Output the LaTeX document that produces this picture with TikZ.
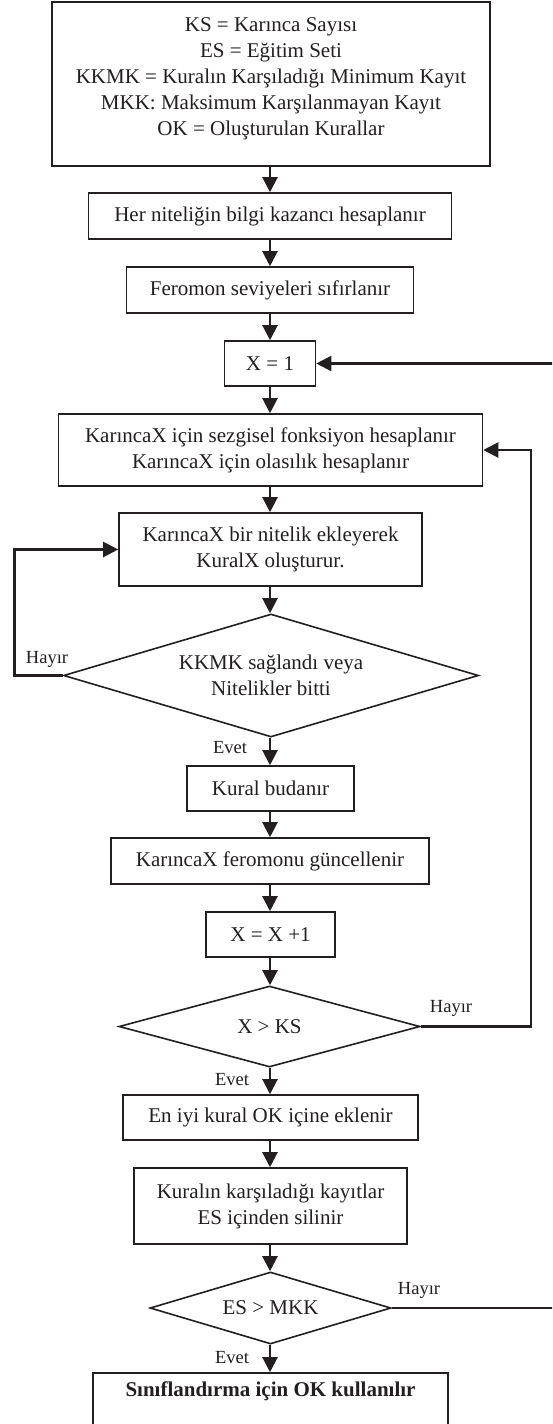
\documentclass[tikz,border=0pt]{standalone}
\usepackage{fontspec}
\setmainfont{Liberation Serif}
\usetikzlibrary{arrows.meta,shapes.geometric}
\definecolor{ink}{HTML}{231F20}
\begin{document}
\begin{tikzpicture}[x=1pt,y=-1pt,
  every node/.style={font=\fontsize{21}{26}\selectfont, text=ink},
  box/.style={draw=ink, line width=1.6pt, inner sep=0pt, align=center, rectangle},
  decision/.style={draw=ink, line width=1.6pt, inner sep=0pt, align=center, diamond},
  conn/.style={draw=ink, line width=2.2pt, -{Triangle[length=15pt,width=15pt]}},
  link/.style={draw=ink, line width=2.2pt},
  lbl/.style={font=\fontsize{18.5}{22}\selectfont, inner sep=0pt}]
\clip (0,0) rectangle (552,1424);
\useasboundingbox (0,0) rectangle (552,1424);
\fill[white] (0,0) rectangle (552,1424);

% definitions box
\node[box, minimum width=438pt, minimum height=164pt] (defs) at (271,84) {};
\node[align=center, inner sep=0pt] (defstext) at (271,78.5) {KS = Karınca Sayısı\\ES = Eğitim Seti\\KKMK = Kuralın Karşıladığı Minimum Kayıt\\MKK: Maksimum Karşılanmayan Kayıt\\OK = Oluşturulan Kurallar};

% process steps
\node[box, minimum width=363pt, minimum height=46pt] (gain) at (270,216) {Her niteliğin bilgi kazancı hesaplanır};
\node[box, minimum width=287pt, minimum height=46pt] (reset) at (270,290) {Feromon seviyeleri sıfırlanır};
\node[box, minimum width=91pt, minimum height=45pt] (xone) at (270,363.5) {X = 1};
\node[box, minimum width=424pt, minimum height=72pt] (heur) at (270.5,450) {KarıncaX için sezgisel fonksiyon hesaplanır\\KarıncaX için olasılık hesaplanır};
\node[box, minimum width=303pt, minimum height=73pt] (build) at (270.5,549.5) {KarıncaX bir nitelik ekleyerek\\KuralX oluşturur.};
\node[decision, shape aspect=3.37, minimum width=415pt, minimum height=123pt] (stop) at (271,675.5) {KKMK sağlandı veya\\Nitelikler bitti};
\node[box, minimum width=167pt, minimum height=45pt] (prune) at (270.5,788.5) {Kural budanır};
\node[box, minimum width=318pt, minimum height=46pt] (update) at (270,861) {KarıncaX feromonu güncellenir};
\node[box, minimum width=129pt, minimum height=45pt] (incr) at (270.5,934.5) {X = X +1};
\node[decision, shape aspect=3.7, minimum width=301pt, minimum height=81pt] (ants) at (269.5,1026.5) {X > KS};
\node[box, minimum width=295pt, minimum height=45pt] (best) at (270.5,1117.5) {En iyi kural OK içine eklenir};
\node[box, minimum width=273pt, minimum height=76pt] (remove) at (270.5,1206) {Kuralın karşıladığı kayıtlar\\ES içinden silinir};
\node[decision, shape aspect=3.35, minimum width=241pt, minimum height=72pt] (left) at (270.5,1308) {ES > MKK};
\node[box, minimum width=355pt, minimum height=78pt] (final) at (270.5,1412) {};
\node[inner sep=0pt, font=\fontsize{21}{26}\selectfont\bfseries] (finaltext) at (270.5,1391) {Sınıflandırma için OK kullanılır};

% branch labels
\node[lbl] (no1) at (47,659) {Hayır};
\node[lbl] (yes1) at (230,748) {Evet};
\node[lbl] (no2) at (451,1008) {Hayır};
\node[lbl] (yes2) at (232,1080) {Evet};
\node[lbl] (no3) at (419,1290) {Hayır};
\node[lbl] (yes3) at (232,1358) {Evet};

% main flow
\draw[conn] (defs.south -| xone) -- (gain);
\draw[conn] (gain) -- (reset);
\draw[conn] (reset) -- (xone);
\draw[conn] (xone) -- (heur.north -| xone);
\draw[conn] (heur.south -| xone) -- (build.north -| xone);
\draw[conn] (build.south -| xone) -- (stop.north -| xone);
\draw[conn] (stop.south -| xone) -- (prune.north -| xone);
\draw[conn] (prune.south -| xone) -- (update);
\draw[conn] (update) -- (incr.north -| xone);
\draw[conn] (incr.south -| xone) -- (ants.north -| xone);
\draw[conn] (ants.south -| xone) -- (best.north -| xone);
\draw[conn] (best.south -| xone) -- (remove.north -| xone);
\draw[conn] (remove.south -| xone) -- (left.north -| xone);
\draw[conn] (left.south -| xone) -- (final.north -| xone);

% loops back
\coordinate (loopL) at (14.5,0);
\coordinate (loopR) at (531,0);
\coordinate (loopOut) at (580,0);
\draw[conn] (stop.west) -- (stop.west -| loopL) |- (build.west);
\draw[conn] (ants.east) -- (ants.east -| loopR) |- (heur.east);
\draw[conn] (left.east) -- (left.east -| loopOut) |- (xone.east);
\end{tikzpicture}
\end{document}
